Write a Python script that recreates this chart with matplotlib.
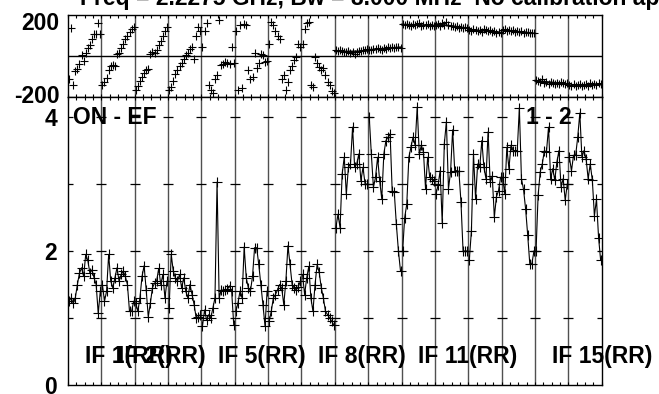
import matplotlib
matplotlib.use('Agg')
import matplotlib.pyplot as plt
import numpy as np
from matplotlib.transforms import ScaledTranslation

plt.rcParams['font.family'] = ['Liberation Sans', 'DejaVu Sans']
plt.rcParams['font.weight'] = 'bold'

N_IF = 16
N_CH = 16

title = "Freq = 2.2275 GHz, Bw = 8.000 MHz  No calibration applied"

amp_if1 = [1.25, 1.30, 1.22, 1.30, 1.50, 1.67, 1.75, 1.62, 1.95, 1.86, 1.67, 1.72, 1.60, 1.50, 1.07, 1.40]
amp_if2 = [1.50, 1.25, 1.40, 1.95, 1.55, 1.45, 1.60, 1.75, 1.55, 1.65, 1.70, 1.62, 1.50, 1.10, 1.10, 1.25]
amp_if3 = [1.22, 1.10, 1.30, 1.62, 1.78, 1.42, 1.02, 1.22, 1.45, 1.52, 1.55, 1.74, 1.50, 1.65, 1.30, 1.55]
amp_if4 = [1.15, 1.95, 1.70, 1.60, 1.55, 1.65, 1.45, 1.60, 1.40, 1.30, 1.50, 1.35, 1.20, 1.00, 1.02, 1.05]
amp_if5 = [0.88, 1.12, 0.97, 1.05, 1.00, 1.15, 1.30, 3.03, 1.30, 1.42, 1.40, 1.42, 1.43, 1.48, 1.40, 0.90]
amp_if6 = [1.10, 1.22, 1.40, 1.30, 2.06, 1.60, 1.45, 1.40, 1.62, 2.05, 2.05, 1.80, 1.50, 1.20, 0.88, 1.40]
amp_if7 = [0.95, 1.10, 1.30, 1.35, 1.42, 1.50, 1.45, 1.20, 1.55, 2.08, 1.80, 1.50, 1.45, 1.42, 1.47, 1.55]
amp_if8 = [1.65, 1.35, 1.60, 1.77, 1.30, 1.10, 1.50, 1.80, 1.68, 1.45, 1.30, 1.10, 1.05, 1.00, 0.95, 0.90]
amp_if9 = [2.35, 2.55, 2.35, 3.15, 3.40, 2.85, 3.25, 3.30, 3.85, 3.25, 3.30, 3.45, 3.05, 3.25, 3.00, 3.00]
amp_if10 = [4.00, 3.45, 2.95, 3.10, 3.40, 3.05, 2.78, 3.45, 3.65, 3.70, 3.75, 2.90, 2.88, 2.40, 2.00, 1.70]
amp_if11 = [2.00, 2.50, 2.70, 3.40, 3.55, 3.70, 3.58, 4.15, 3.45, 3.58, 3.48, 2.93, 3.40, 3.10, 3.07, 3.05]
amp_if12 = [2.85, 2.98, 3.20, 2.42, 3.60, 3.93, 2.93, 3.18, 3.81, 3.20, 3.20, 3.19, 2.73, 2.00, 2.00, 2.00]
amp_if13 = [1.87, 2.30, 3.45, 2.78, 3.30, 3.25, 3.65, 3.25, 3.08, 3.78, 3.03, 3.12, 2.51, 2.81, 2.90, 3.10]
amp_if14 = [3.10, 2.85, 3.55, 3.23, 3.58, 3.50, 3.50, 3.50, 4.14, 3.08, 2.92, 2.63, 2.24, 1.81, 1.81, 2.00]
amp_if15 = [2.00, 2.83, 3.18, 3.30, 3.50, 3.48, 3.85, 3.08, 3.23, 3.06, 3.33, 3.50, 2.96, 3.08, 2.76, 3.00]
amp_if16 = [3.40, 3.20, 3.43, 3.43, 3.70, 4.06, 3.40, 3.50, 3.38, 3.08, 3.30, 3.06, 2.53, 2.77, 2.20, 1.86]

ph_if1 = [-110, 135, -140, -75, -65, -40, 5, -25, 15, 40, 55, 85, 105, 108, 160, 105]
ph_if2 = [-140, -125, -105, -70, -50, -45, -50, 10, 15, 40, 60, 85, 100, 115, 130, 140]
ph_if3 = [-165, -145, -120, -100, -85, -70, -65, 10, 20, 15, 30, 55, 75, 100, 120, 140]
ph_if4 = [-165, -150, -120, -90, -70, -50, -35, -15, 5, 15, 35, 45, -15, 100, 140, 120]
ph_if5 = [45, 120, 160, -140, -165, -180, -110, -95, 175, -45, -40, -30, -35, -40, 45, -35]
ph_if6 = [120, -165, 150, -155, 155, 150, -70, -110, -100, 15, -60, -35, 10, 5, -30, -25]
ph_if7 = [60, 165, 150, 120, 100, 85, -110, -95, -165, -125, -70, -50, -20, -5, 60, 45]
ph_if8 = [60, 130, 160, 165, -140, -150, -5, -35, -55, -70, -60, -95, -125, -140, -170, -180]
ph_if9 = [28, 22, 30, 25, 20, 18, 24, 15, 20, 12, 18, 22, 25, 30, 28, 32]
ph_if10 = [30, 28, 35, 32, 38, 34, 30, 40, 36, 42, 38, 45, 40, 44, 42, 38]
ph_if11 = [155, 150, 158, 152, 148, 156, 150, 154, 160, 148, 152, 150, 155, 146, 150, 148]
ph_if12 = [150, 155, 148, 160, 152, 165, 150, 145, 148, 140, 145, 138, 142, 136, 140, 135]
ph_if13 = [128, 122, 130, 125, 120, 128, 118, 132, 125, 120, 126, 115, 120, 110, 118, 112]
ph_if14 = [125, 130, 122, 128, 120, 125, 118, 122, 115, 120, 112, 118, 115, 110, 114, 112]
ph_if15 = [-115, -120, -125, -110, -130, -128, -135, -125, -132, -138, -130, -135, -128, -132, -136, -130]
ph_if16 = [-140, -145, -138, -148, -142, -135, -146, -140, -138, -144, -132, -140, -136, -142, -134, -138]

amps = [amp_if1, amp_if2, amp_if3, amp_if4, amp_if5, amp_if6, amp_if7, amp_if8,
        amp_if9, amp_if10, amp_if11, amp_if12, amp_if13, amp_if14, amp_if15, amp_if16]
phases = [ph_if1, ph_if2, ph_if3, ph_if4, ph_if5, ph_if6, ph_if7, ph_if8,
          ph_if9, ph_if10, ph_if11, ph_if12, ph_if13, ph_if14, ph_if15, ph_if16]

if_label_panels = [1, 2, 5, 8, 11, 15]
if_label_texts = ["IF 1(RR)", "IF 2(RR)", "IF 5(RR)", "IF 8(RR)", "IF 11(RR)", "IF 15(RR)"]

phase_ticks = [-200, 200]
phase_ticklabels = ["-200", "200"]
amp_ticks = [0, 2, 4]
amp_ticklabels = ["0", "2", "4"]

FS = 16.5
W, H = 659, 394
fig = plt.figure(figsize=(W / 100, H / 100), dpi=100)
L, R = 68, 601.7
axp = fig.add_axes([L / W, 1 - 97 / H, (R - L) / W, 82 / H])
axa = fig.add_axes([L / W, 1 - 385 / H, (R - L) / W, 288 / H])

xmax = N_IF * N_CH
for ax in (axp, axa):
    ax.set_xlim(0, xmax)
    for b in range(N_CH, xmax, N_CH):
        ax.axvline(b, color='#505050', lw=1.0, zorder=1)
    ax.set_xticks(np.arange(0, xmax + 1, 4))
    ax.set_xticklabels([])
    ax.tick_params(axis='x', which='both', direction='in', top=True, bottom=True,
                   length=2.5, width=0.8, color='k')
    for s in ax.spines.values():
        s.set_color('k')
        s.set_linewidth(1.0)

axp.set_ylim(-200, 200)
axa.set_ylim(0, 4.3)
axp.axhline(0, color='k', lw=1.0, zorder=1)

for i in range(N_IF):
    x = i * N_CH + np.arange(N_CH) + 0.5
    axa.plot(x, amps[i], color='k', lw=0.8, marker='+', ms=7, mew=0.8, zorder=3)
    axp.plot(x, phases[i], ls='none', marker='+', ms=6, mew=0.8, color='k', zorder=3)
    if i >= 8:
        c = np.polyfit(x, phases[i], 1)
        xx = np.array([i * N_CH, (i + 1) * N_CH])
        axp.plot(xx, np.polyval(c, xx), color='k', lw=1.0, zorder=4)

# crossing y-ticks at panel boundaries
bx = np.arange(0, xmax + 1, N_CH)
for yv in [1, 2, 3, 4]:
    axa.plot(bx, [yv] * len(bx), ls='none', marker='_', ms=7.5, mew=0.9, color='k', zorder=2)

axp.set_yticks(phase_ticks)
axp.set_yticklabels(phase_ticklabels, fontsize=FS, fontweight='bold')
axp.tick_params(axis='y', length=0, pad=6)
offs = {"200": -6.5, "-200": 3}
for lab in axp.get_yticklabels():
    dy = offs.get(lab.get_text(), 0)
    lab.set_transform(lab.get_transform() + ScaledTranslation(0, dy / 100, fig.dpi_scale_trans))

axa.set_yticks(amp_ticks)
axa.set_yticklabels(amp_ticklabels, fontsize=FS, fontweight='bold')
axa.tick_params(axis='y', length=0, pad=8)

for p, t in zip(if_label_panels, if_label_texts):
    axa.text((p - 1) * N_CH + N_CH / 2, 0.33, t, fontsize=FS, fontweight='bold',
             ha='left', va='baseline', zorder=5)

axa.text(2.5, 3.9, "ON - EF", fontsize=FS, fontweight='bold', ha='left', va='baseline', zorder=5)
axa.text(219.5, 3.9, "1 - 2", fontsize=FS, fontweight='bold', ha='left', va='baseline', zorder=5)

fig.text(80 / W, 1 - 5 / H, title, fontsize=FS, fontweight='bold', ha='left', va='baseline')

fig.savefig('out.png', dpi=100)
